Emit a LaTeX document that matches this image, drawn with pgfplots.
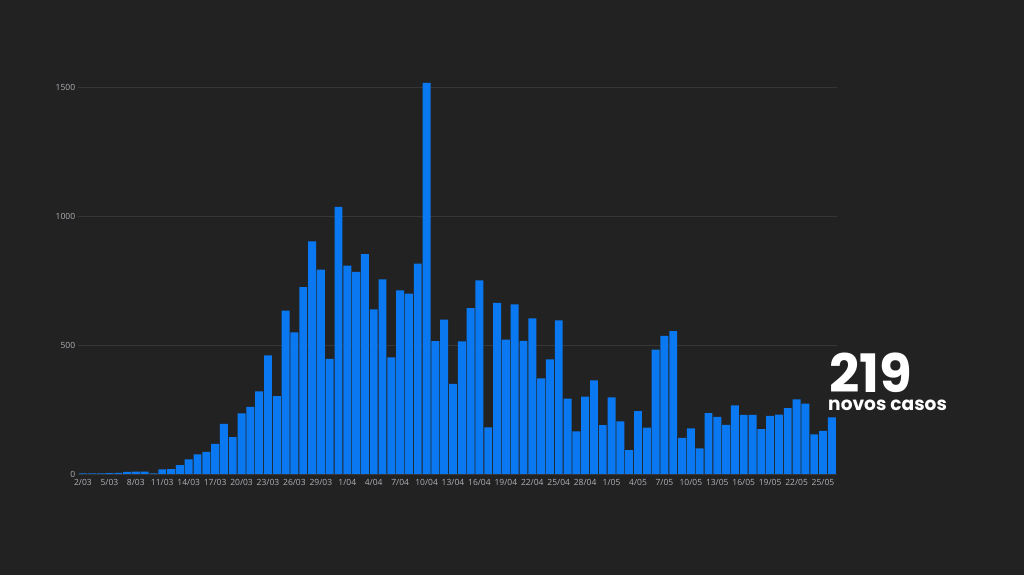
\documentclass[border=0pt]{standalone}
\usepackage{pgfplots}
\pgfplotsset{compat=1.18}
\usepackage{pgfplotstable}
\usepackage{fontspec}
\setmainfont{Open Sans}
\newfontfamily\pop{Poppins}
\definecolor{bg}{HTML}{222222}
\definecolor{barc}{HTML}{0A78F0}
\definecolor{gridc}{HTML}{363636}
\definecolor{tickc}{HTML}{B0B0B8}
\pgfplotstableread{
x y
0 2
1 2
2 2
3 3
4 4
5 8
6 9
7 9
8 2
9 18
10 19
11 34
12 57
13 76
14 86
15 117
16 194
17 143
18 235
19 260
20 320
21 460
22 302
23 633
24 549
25 724
26 902
27 792
28 446
29 1035
30 808
31 783
32 852
33 638
34 754
35 452
36 712
37 699
38 815
39 1516
40 515
41 598
42 349
43 514
44 643
45 750
46 181
47 663
48 521
49 657
50 516
51 603
52 371
53 444
54 595
55 292
56 165
57 300
58 363
59 189
60 297
61 204
62 93
63 244
64 180
65 482
66 535
67 554
68 140
69 177
70 99
71 236
72 221
73 190
74 266
75 229
76 229
77 174
78 225
79 230
80 255
81 289
82 273
83 154
84 167
85 219
}\casos
\begin{document}
\begin{tikzpicture}[x=1pt,y=1pt]
\fill[bg] (0,0) rectangle (1024,575);
\useasboundingbox (0,0) rectangle (1024,575);
\begin{axis}[
  at={(77.7pt,101pt)}, anchor=south west,
  scale only axis, width=759.4pt, height=412.8pt,
  xmin=-0.6, xmax=85.6, ymin=0, ymax=1600,
  axis line style={draw=none},
  tick style={draw=none},
  ymajorgrids, grid style={gridc, line width=0.6pt},
  ytick={0,500,1000,1500},
  xtick={0,3,...,84},
  xticklabels={2/03,5/03,8/03,11/03,14/03,17/03,20/03,23/03,26/03,29/03,1/04,4/04,7/04,10/04,13/04,16/04,19/04,22/04,25/04,28/04,1/05,4/05,7/05,10/05,13/05,16/05,19/05,22/05,25/05},
  ticklabel style={font=\fontsize{8.5}{10}\selectfont, text=tickc},
  yticklabel style={anchor=east, xshift=1pt},
  xticklabel style={yshift=2pt},
  /pgf/number format/assume math mode=true,
  /pgf/number format/1000 sep={},
  ybar, bar width=0.9,
]
\addplot[fill=barc, draw=none] table[x=x,y=y] {\casos};
\end{axis}
\node[anchor=base west, inner sep=0pt, text=white, font=\pop\bfseries\fontsize{53}{56}\selectfont] at (829,182) {219};
\node[anchor=base west, inner sep=0pt, text=white, font=\pop\bfseries\fontsize{18.6}{20}\selectfont] at (828,164.5) {novos casos};
\end{tikzpicture}
\end{document}
